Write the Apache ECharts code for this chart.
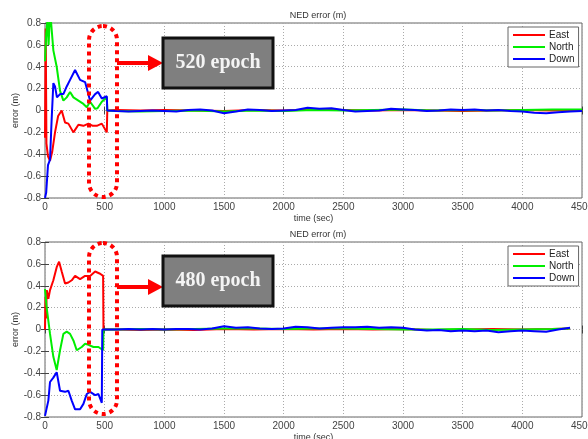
<!DOCTYPE html>
<html><head><meta charset="utf-8">
<script src="https://cdn.jsdelivr.net/npm/echarts@6/dist/echarts.min.js"></script>
<style>html,body{margin:0;padding:0;background:#fff}#c{width:588px;height:439px}</style>
</head><body><div id="c"></div>
<script>
// ---- data: [time (sec), error (m)] ----
var seriesNames = ['East', 'North', 'Down'];
var xTicks = [0, 500, 1000, 1500, 2000, 2500, 3000, 3500, 4000, 4500];
var yTicks = [-0.8, -0.6, -0.4, -0.2, 0, 0.2, 0.4, 0.6, 0.8];
var annotTop = '520 epoch';
var annotBottom = '480 epoch';

var topEastEarly = [[0,-0.25],[6,0.75],[12,-0.3],[25,-0.42],[42,-0.46],[60,-0.38],[84,-0.2],[110,-0.05],[140,0.0],[168,-0.11],[196,-0.12],[238,-0.2],[280,-0.13],[322,-0.14],[364,-0.12],[400,-0.14],[434,-0.14],[476,-0.12],[518,-0.2],[522,0.0]];
var topEastTail = [[600,0.005],[800,0.0],[1000,0.005],[1250,0.0],[1500,-0.005],[1750,0.005],[2000,0.0],[2250,0.01],[2500,0.005],[2750,0.0],[3000,0.005],[3250,0.0],[3500,-0.005],[3750,0.0],[4000,0.005],[4250,0.0],[4500,0.005]];
var topNorthEarly = [[0,0.45],[10,0.7],[20,0.82],[30,0.6],[40,0.85],[50,0.82],[70,0.55],[98,0.4],[126,0.18],[154,0.09],[182,0.12],[210,0.17],[238,0.12],[280,0.09],[322,0.06],[350,0.03],[378,0.08],[420,0.015],[440,0.02],[476,0.08],[518,0.12],[522,0.0]];
var topNorthTail = [[600,-0.005],[800,-0.01],[1000,-0.005],[1250,0.0],[1500,-0.01],[1750,0.0],[2000,-0.005],[2250,0.005],[2500,0.0],[2750,0.005],[3000,0.01],[3250,0.0],[3500,0.005],[3750,0.0],[4000,0.005],[4250,0.01],[4500,0.01]];
var topDownEarly = [[0,-0.8],[10,-0.75],[25,-0.5],[42,-0.45],[55,-0.1],[70,0.25],[84,0.22],[100,0.12],[126,0.15],[154,0.15],[182,0.22],[210,0.28],[252,0.37],[294,0.28],[336,0.26],[378,0.09],[420,0.15],[445,0.17],[476,0.11],[518,0.13],[522,0.0]];
var topDownTail = [[600,-0.005],[700,-0.01],[800,-0.005],[900,0.0],[1000,-0.005],[1100,-0.01],[1200,0.005],[1300,0.01],[1400,0.0],[1500,-0.025],[1600,-0.01],[1700,0.01],[1800,0.005],[1900,-0.005],[2000,0.0],[2100,0.005],[2200,0.025],[2300,0.015],[2400,0.02],[2500,0.005],[2600,-0.01],[2700,-0.005],[2800,0.0],[2900,0.015],[3000,0.01],[3100,0.005],[3200,-0.005],[3300,0.0],[3400,0.01],[3500,0.005],[3600,0.01],[3700,0.0],[3800,0.005],[3900,-0.005],[4000,-0.01],[4100,-0.02],[4200,-0.025],[4300,-0.015],[4400,-0.01],[4500,-0.005]];

var botEastEarly = [[0,0.0],[4,0.3],[8,0.1],[15,0.36],[28,0.28],[42,0.36],[70,0.45],[98,0.57],[118,0.62],[140,0.53],[168,0.42],[196,0.43],[224,0.45],[252,0.49],[294,0.46],[336,0.49],[378,0.49],[420,0.53],[462,0.51],[487,0.49],[490,0.0]];
var botEastTail = [[600,0.0],[800,-0.005],[1000,0.0],[1250,-0.005],[1500,0.005],[1750,0.0],[2000,0.005],[2250,0.0],[2500,0.005],[2750,0.0],[3000,0.005],[3250,-0.005],[3500,0.0],[3750,0.005],[4000,0.0],[4250,0.005],[4400,0.01]];
var botNorthEarly = [[0,0.37],[14,0.2],[42,-0.04],[70,-0.25],[98,-0.37],[126,-0.19],[154,-0.04],[182,-0.02],[210,-0.04],[238,-0.1],[266,-0.19],[308,-0.16],[336,-0.13],[364,-0.14],[406,-0.16],[448,-0.16],[487,-0.19],[490,0.0]];
var botNorthTail = [[600,0.0],[800,0.005],[1000,0.0],[1250,0.005],[1500,0.01],[1750,0.01],[2000,0.005],[2250,0.01],[2500,0.01],[2750,0.005],[3000,0.0],[3250,0.0],[3500,0.005],[3750,-0.005],[4000,0.0],[4250,0.005],[4400,0.01]];
var botDownEarly = [[0,-0.79],[14,-0.78],[28,-0.65],[42,-0.48],[70,-0.44],[98,-0.39],[126,-0.56],[168,-0.57],[196,-0.56],[224,-0.65],[252,-0.73],[294,-0.73],[322,-0.68],[350,-0.59],[378,-0.57],[420,-0.6],[448,-0.59],[476,-0.67],[480,0.0]];
var botDownTail = [[600,0.0],[700,0.005],[800,0.0],[900,0.005],[1000,0.0],[1100,0.005],[1200,0.005],[1300,0.0],[1400,0.01],[1500,0.03],[1600,0.015],[1700,0.02],[1800,0.01],[1900,0.005],[2000,0.01],[2100,0.025],[2200,0.02],[2300,0.01],[2400,0.015],[2500,0.02],[2600,0.02],[2700,0.025],[2800,0.015],[2900,0.02],[3000,0.015],[3100,0.0],[3200,-0.01],[3300,-0.005],[3400,-0.015],[3500,-0.01],[3600,-0.015],[3700,-0.01],[3800,-0.025],[3900,-0.015],[4000,-0.01],[4100,-0.015],[4200,-0.02],[4300,0.0],[4400,0.015]];

// ---- build ----
var FONT = '"Liberation Sans", Arial, sans-serif';
var colors = ['#ff0000', '#00ee00', '#0000ff'];
var gridW = 537, gridH = 175;
var grids = [
  {left: 45, top: 23, width: gridW, height: gridH, show: true, backgroundColor: '#fff', borderColor: '#666', borderWidth: 1, containLabel: false, outerBoundsMode: 'none'},
  {left: 45, top: 242, width: gridW, height: gridH, show: true, backgroundColor: '#fff', borderColor: '#666', borderWidth: 1, containLabel: false, outerBoundsMode: 'none'}
];
function xAx(g, pos, main) {
  return {
    type: 'value', gridIndex: g, position: pos, min: xTicks[0], max: xTicks[xTicks.length-1], interval: xTicks[1]-xTicks[0],
    name: main ? 'time (sec)' : '', nameLocation: 'middle', nameGap: 16, nameMoveOverlap: false,
    nameTextStyle: {fontFamily: FONT, fontSize: 9, color: '#333'},
    axisLine: {show: false},
    axisTick: {show: true, inside: true, length: 4, lineStyle: {color: '#444'}},
    axisLabel: {show: main, fontFamily: FONT, fontSize: 10, color: '#444', margin: 4,
      formatter: function (v) { return String(v); }},
    splitLine: {show: main, lineStyle: {color: '#aaa', type: [1, 2], width: 1}}
  };
}
function yAx(g, pos, main) {
  return {
    type: 'value', gridIndex: g, position: pos, min: yTicks[0], max: yTicks[yTicks.length-1], interval: 0.2,
    name: main ? 'error (m)' : '', nameLocation: 'middle', nameGap: 25, nameRotate: 90, nameMoveOverlap: false,
    nameTextStyle: {fontFamily: FONT, fontSize: 9, color: '#333'},
    axisLine: {show: false},
    axisTick: {show: true, inside: true, length: 4, lineStyle: {color: '#444'}},
    axisLabel: {show: main, fontFamily: FONT, fontSize: 10, color: '#444', margin: 4,
      formatter: function (v) { var r = Math.round(v * 10) / 10; return r === 0 ? '0' : String(r); }},
    splitLine: {show: main, lineStyle: {color: '#aaa', type: [1, 2], width: 1}}
  };
}
var dataSets = [
  [topEastEarly.concat(topEastTail), topNorthEarly.concat(topNorthTail), topDownEarly.concat(topDownTail)],
  [botEastEarly.concat(botEastTail), botNorthEarly.concat(botNorthTail), botDownEarly.concat(botDownTail)]
];
var series = [];
for (var g = 0; g < 2; g++) {
  for (var s = 0; s < 3; s++) {
    series.push({
      type: 'line', name: seriesNames[s], xAxisIndex: g, yAxisIndex: g,
      data: dataSets[g][s], showSymbol: false, symbol: 'none', animation: false,
      lineStyle: {color: colors[s], width: 2}, itemStyle: {color: colors[s]}, z: 3 + s
    });
  }
}
function legend(top) {
  return {
    orient: 'vertical', left: 508, top: top, data: seriesNames,
    backgroundColor: '#fff', borderColor: '#666', borderWidth: 1,
    padding: [3, 4, 3, 5], itemGap: 2, itemWidth: 32, itemHeight: 2, icon: 'rect',
    textStyle: {fontFamily: FONT, fontSize: 10, color: '#222', lineHeight: 9, padding: [0, 0, 0, -1]},
    selectedMode: false
  };
}
function annot(ey, ay, by, label) {
  return [
    {type: 'rect', shape: {x: 89, y: ey, width: 28, height: 171, r: 14}, z: 100,
      style: {fill: null, stroke: '#ff0000', lineWidth: 4, lineDash: [4, 4]}},
    {type: 'line', shape: {x1: 117, y1: ay, x2: 150, y2: ay}, z: 100,
      style: {stroke: '#ff0000', lineWidth: 4}},
    {type: 'polygon', shape: {points: [[148, ay - 8], [163, ay], [148, ay + 8]]}, z: 100,
      style: {fill: '#ff0000'}},
    {type: 'rect', shape: {x: 163, y: by, width: 110, height: 50}, z: 100,
      style: {fill: '#7f7f7f', stroke: '#111', lineWidth: 3}},
    {type: 'text', x: 218, y: by + 25, z: 101,
      style: {text: label, fill: '#f4f4f4', font: 'bold 20px "Liberation Serif", "DejaVu Serif", serif',
        align: 'center', verticalAlign: 'middle'}}
  ];
}
var chart = echarts.init(document.getElementById('c'), null, {renderer: 'canvas'});
chart.setOption({
  animation: false,
  backgroundColor: '#fff',
  title: [
    {text: 'NED error (m)', left: 313, top: 6, textAlign: 'center', textStyle: {fontFamily: FONT, fontSize: 9, fontWeight: 'normal', color: '#333'}},
    {text: 'NED error (m)', left: 313, top: 225, textAlign: 'center', textStyle: {fontFamily: FONT, fontSize: 9, fontWeight: 'normal', color: '#333'}}
  ],
  legend: [legend(27), legend(246)],
  grid: grids,
  xAxis: [xAx(0, 'bottom', true), xAx(1, 'bottom', true), xAx(0, 'top', false), xAx(1, 'top', false)],
  yAxis: [yAx(0, 'left', true), yAx(1, 'left', true), yAx(0, 'right', false), yAx(1, 'right', false)],
  series: series,
  graphic: annot(26, 63, 38, annotTop).concat(annot(243, 287, 256, annotBottom))
});
</script></body></html>
